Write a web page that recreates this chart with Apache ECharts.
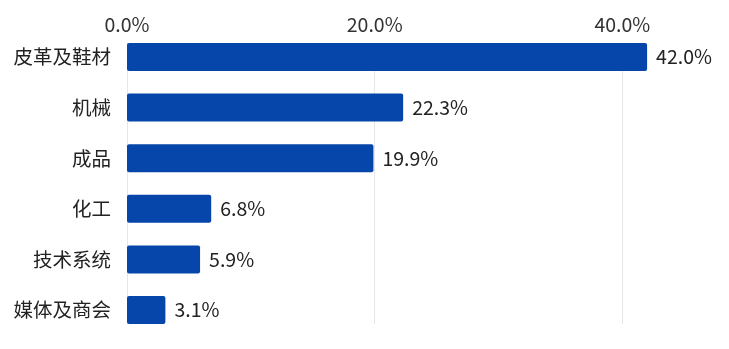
<!DOCTYPE html>
<html>
<head>
<meta charset="utf-8">
<script src="https://cdn.jsdelivr.net/npm/echarts@6/dist/echarts.min.js"></script>
<style>
  html, body { margin: 0; padding: 0; background: #ffffff; }
  #chart { width: 729px; height: 349px; }
</style>
</head>
<body>
<div id="chart"></div>
<script>
// Share of each sector (%)
const categories = ['皮革及鞋材', '机械', '成品', '化工', '技术系统', '媒体及商会'];
const shares = [42.0, 22.3, 19.9, 6.8, 5.9, 3.1];
const tickLabels = ['0.0%', '20.0%', '40.0%'];

const FONT = '"Noto Sans CJK SC", "Noto Sans", sans-serif';
const FONT_SIZE = 19.5;
const BAR_COLOR = '#0646AA';
const X_MAX = 60;
// plot width for the 0–60 scale; the 60 end lies past the right edge of the canvas
const PLOT_WIDTH = 743;

const chart = echarts.init(document.getElementById('chart'), null, { renderer: 'canvas' });

const gridBase = { left: 127, width: PLOT_WIDTH, containLabel: false, outerBoundsMode: 'none' };

chart.setOption({
  animation: false,
  backgroundColor: '#ffffff',
  grid: [
    // bars
    Object.assign({ top: 31.7, bottom: 13.7 }, gridBase),
    // value scale with gridlines, spanning first bar top to last bar bottom
    Object.assign({ top: 43, bottom: 25 }, gridBase)
  ],
  xAxis: [
    { type: 'value', gridIndex: 0, min: 0, max: X_MAX, interval: 20, show: false },
    {
      type: 'value', gridIndex: 1, position: 'top', min: 0, max: X_MAX, interval: 20,
      axisLine: { show: false },
      axisTick: { show: false },
      axisLabel: {
        margin: 9,
        color: '#333333',
        fontFamily: FONT,
        fontSize: FONT_SIZE,
        formatter: v => tickLabels[Math.round(v / 20)] || ''
      },
      splitLine: { show: true, lineStyle: { color: '#e6e6e6', width: 1 } }
    }
  ],
  yAxis: [
    {
      type: 'category', gridIndex: 0, inverse: true, data: categories,
      axisLine: { show: false },
      axisTick: { show: false },
      axisLabel: { margin: 16, color: '#222222', fontFamily: FONT, fontSize: FONT_SIZE }
    },
    { type: 'category', gridIndex: 1, inverse: true, data: categories, show: false }
  ],
  series: [
    {
      type: 'bar',
      xAxisIndex: 0,
      yAxisIndex: 0,
      data: shares,
      barWidth: 28,
      itemStyle: { color: BAR_COLOR, borderRadius: 2 },
      label: {
        show: true,
        position: 'right',
        distance: 9,
        color: '#222222',
        fontFamily: FONT,
        fontSize: FONT_SIZE,
        formatter: p => p.value.toFixed(1) + '%'
      }
    }
  ]
});
</script>
</body>
</html>
